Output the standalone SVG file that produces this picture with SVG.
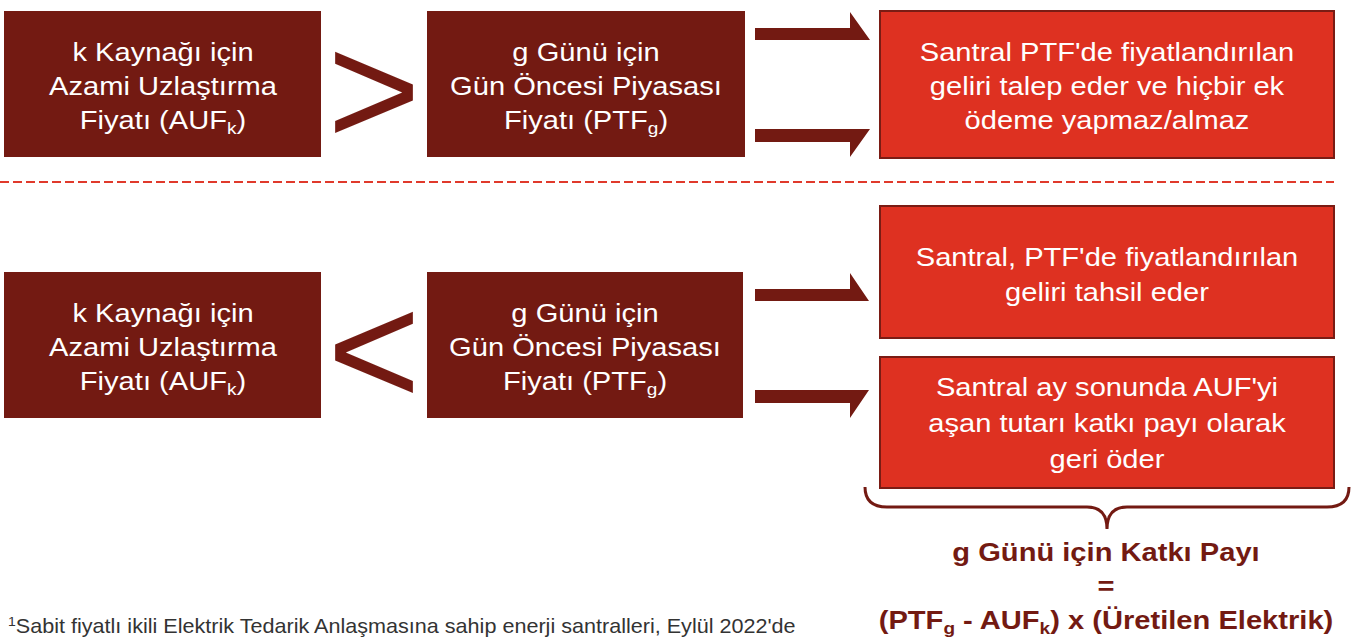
<svg xmlns="http://www.w3.org/2000/svg" width="1363" height="639" viewBox="0 0 1363 639">
<style>
.dark{fill:#731A12}
.red{fill:#DE3121;stroke:#7A1C14;stroke-width:2}
.t{font-family:"Liberation Sans",Arial,sans-serif;font-size:26px;fill:#FFFFFF;text-anchor:middle}
.sub{font-size:17px}
.sym{font-family:"Liberation Sans",Arial,sans-serif;font-size:160px;fill:#731A12;text-anchor:middle}
.f{font-family:"Liberation Sans",Arial,sans-serif;font-size:26px;font-weight:bold;fill:#731A12;text-anchor:middle}
.fsub{font-size:17px}
.note{font-family:"Liberation Sans",Arial,sans-serif;font-size:20px;fill:#333333}
</style>
<rect width="1363" height="639" fill="#FFFFFF"/>

<g id="connectors">
<polygon class="dark" points="755,28 850,28 850,12 870,40 755,40"/>
<polygon class="dark" points="755,129 870,129 850,157 850,142 755,142"/>
<polygon class="dark" points="755,289 850,289 850,273 869,301 755,301"/>
<polygon class="dark" points="755,390 869,390 850,418 850,403 755,403"/>
</g>

<line id="divider" x1="0" y1="182" x2="1334" y2="182" stroke="#E0392B" stroke-width="2" stroke-dasharray="9,4"/>

<g id="auf-top">
<rect class="dark" x="4" y="11" width="317" height="146"/>
<g transform="translate(163,0) scale(1.12,1)">
<text class="t" x="0" y="61">k Kaynağı için</text>
<text class="t" x="0" y="95">Azami Uzlaştırma</text>
<text class="t" x="0" y="129">Fiyatı (AUF<tspan class="sub" dy="5">k</tspan><tspan dy="-5">)</tspan></text>
</g>
</g>

<g id="gt-sign">
<text class="sym" x="374" y="145">&gt;</text>
</g>

<g id="ptf-top">
<rect class="dark" x="427" y="11" width="318" height="146"/>
<g transform="translate(586,0) scale(1.12,1)">
<text class="t" x="0" y="61">g Günü için</text>
<text class="t" x="0" y="95">Gün Öncesi Piyasası</text>
<text class="t" x="0" y="129">Fiyatı (PTF<tspan class="sub" dy="5">g</tspan><tspan dy="-5">)</tspan></text>
</g>
</g>

<g id="result-top">
<rect class="red" x="880" y="11" width="454" height="147"/>
<g transform="translate(1107,0) scale(1.12,1)">
<text class="t" x="0" y="61">Santral PTF'de fiyatlandırılan</text>
<text class="t" x="0" y="95">geliri talep eder ve hiçbir ek</text>
<text class="t" x="0" y="129">ödeme yapmaz/almaz</text>
</g>
</g>

<g id="auf-bottom">
<rect class="dark" x="4" y="272" width="317" height="146"/>
<g transform="translate(163,0) scale(1.12,1)">
<text class="t" x="0" y="322">k Kaynağı için</text>
<text class="t" x="0" y="356">Azami Uzlaştırma</text>
<text class="t" x="0" y="390">Fiyatı (AUF<tspan class="sub" dy="5">k</tspan><tspan dy="-5">)</tspan></text>
</g>
</g>

<g id="lt-sign">
<text class="sym" x="374" y="405">&lt;</text>
</g>

<g id="ptf-bottom">
<rect class="dark" x="427" y="272" width="316" height="146"/>
<g transform="translate(585,0) scale(1.12,1)">
<text class="t" x="0" y="322">g Günü için</text>
<text class="t" x="0" y="356">Gün Öncesi Piyasası</text>
<text class="t" x="0" y="390">Fiyatı (PTF<tspan class="sub" dy="5">g</tspan><tspan dy="-5">)</tspan></text>
</g>
</g>

<g id="result-collect">
<rect class="red" x="880" y="206" width="454" height="132"/>
<g transform="translate(1107,0) scale(1.12,1)">
<text class="t" x="0" y="266">Santral, PTF'de fiyatlandırılan</text>
<text class="t" x="0" y="301">geliri tahsil eder</text>
</g>
</g>

<g id="result-refund">
<rect class="red" x="880" y="357" width="454" height="131"/>
<g transform="translate(1107,0) scale(1.12,1)">
<text class="t" x="0" y="396">Santral ay sonunda AUF'yi</text>
<text class="t" x="0" y="432">aşan tutarı katkı payı olarak</text>
<text class="t" x="0" y="468">geri öder</text>
</g>
</g>

<g id="brace">
<path d="M865,487 Q865,507 887,507 L1087,507 Q1107,507 1107,529 Q1107,507 1127,507 L1327,507 Q1349,507 1349,487" fill="none" stroke="#731A12" stroke-width="3"/>
</g>

<g id="formula">
<g transform="translate(1106,0) scale(1.12,1)">
<text class="f" x="0" y="561">g Günü için Katkı Payı</text>
<text class="f" x="0" y="595">=</text>
<text class="f" x="0" y="629">(PTF<tspan class="fsub" dy="5">g</tspan><tspan dy="-5"> - AUF</tspan><tspan class="fsub" dy="5">k</tspan><tspan dy="-5">) x (Üretilen Elektrik)</tspan></text>
</g>
</g>

<g id="footnote">
<g transform="translate(8,0) scale(1.08,1)">
<text class="note" x="0" y="633"><tspan font-size="13" dy="-7">1</tspan><tspan dy="7">Sabit fiyatlı ikili Elektrik Tedarik Anlaşmasına sahip enerji santralleri, Eylül 2022'de</tspan></text>
</g>
</g>
</svg>
